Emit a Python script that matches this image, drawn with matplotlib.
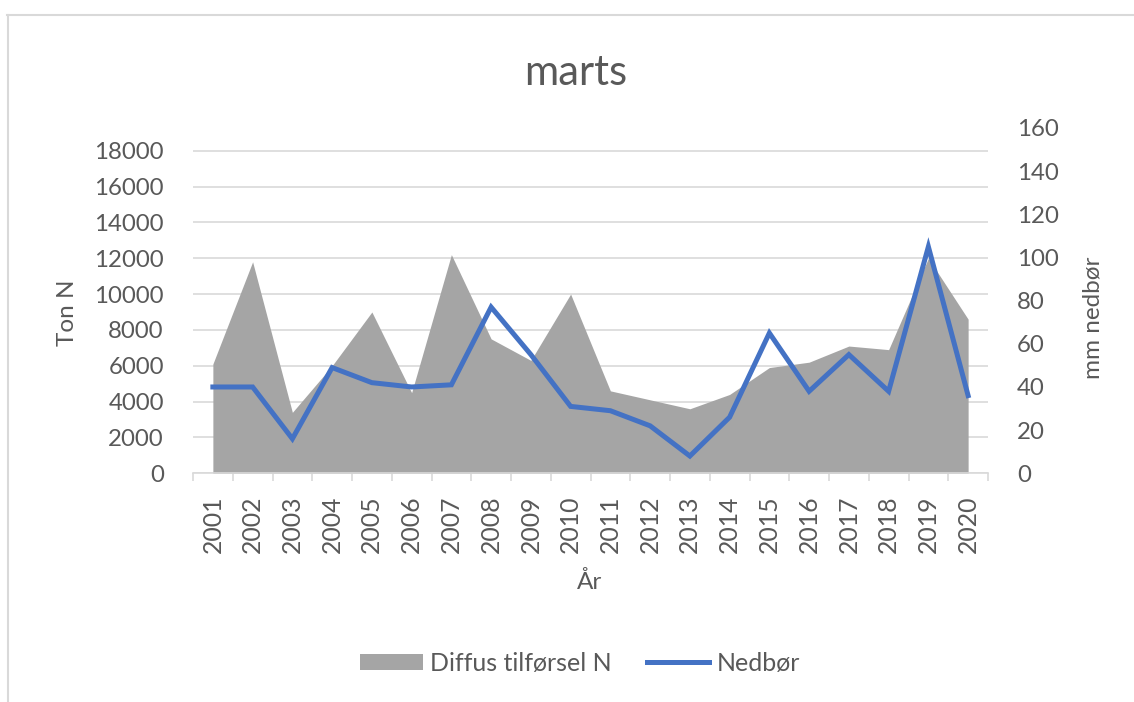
import matplotlib
matplotlib.use("Agg")
import matplotlib.pyplot as plt
from matplotlib.lines import Line2D
from matplotlib.patches import Patch

years = [str(y) for y in range(2001, 2021)]
diffus_n = [6100, 11800, 3400, 6000, 9000, 4500, 12200, 7500, 6300, 10000,
            4600, 4100, 3600, 4400, 5900, 6200, 7100, 6900, 12000, 8600]
nedboer = [40, 40, 16, 49, 42, 40, 41, 77, 55, 31,
           29, 22, 8, 26, 65, 38, 55, 38, 105, 36]
left_ticks = list(range(0, 18001, 2000))
right_ticks = list(range(0, 161, 20))

plt.rcParams['font.family'] = ['Lato', 'DejaVu Sans']
txt = '#595959'
grid = '#d9d9d9'
fs = 17.3

W, H = 1134, 702
fig = plt.figure(figsize=(W / 100, H / 100), dpi=100)
ax = fig.add_axes([193 / W, 1 - 473.3 / H, (988 - 193) / W, (473.3 - 128) / H])
x = list(range(len(years)))

ax.fill_between(x, diffus_n, 0, color='#a5a5a5', linewidth=0, zorder=2)
ax.set_xlim(-0.5, len(years) - 0.5)
ax.set_ylim(0, 18000 * (473.3 - 128) / (473.3 - 150.7))
ax.set_yticks(left_ticks)
ax.set_yticklabels([str(v) for v in left_ticks])
ax.yaxis.grid(True, color=grid, linewidth=1.2, zorder=0)
ax.set_axisbelow(True)
for s in ['top', 'right', 'left']:
    ax.spines[s].set_visible(False)
ax.spines['bottom'].set_color(grid)
ax.spines['bottom'].set_linewidth(1.2)
ax.tick_params(axis='y', length=0, pad=21, labelsize=fs, labelcolor=txt)
ax.set_xticks(x)
ax.set_xticklabels(years, rotation=90)
ax.tick_params(axis='x', which='major', length=0, pad=16, labelsize=fs + 0.5, labelcolor=txt)
ax.set_xticks([i - 0.5 for i in range(len(years) + 1)], minor=True)
ax.tick_params(axis='x', which='minor', length=6, width=1.2, color=grid)

ax2 = ax.twinx()
ax2.plot(x, nedboer, color='#4472c4', linewidth=3.6, solid_joinstyle='miter', zorder=3)
ax2.set_ylim(0, 160)
ax2.set_yticks(right_ticks)
for s in ax2.spines.values():
    s.set_visible(False)
ax2.tick_params(axis='y', length=0, pad=21, labelsize=fs, labelcolor=txt)

fig.text(68 / W, 1 - 313 / H, 'Ton N', rotation=90, ha='center', va='center',
         fontsize=17.5, color=txt)
fig.text(1093 / W, 1 - 318 / H, 'mm nedbør', rotation=90, ha='center', va='center',
         fontsize=17.5, color=txt)
fig.text(590 / W, 1 - 582 / H, 'År', ha='center', va='center', fontsize=17.5, color=txt)
fig.text(576 / W, 1 - 85 / H, 'marts', ha='center', va='baseline', fontsize=30, color=txt)

handles = [Patch(facecolor='#a5a5a5', edgecolor='none'),
           Line2D([0], [0], color='#4472c4', linewidth=3.6)]
fig.legend(handles, ['Diffus tilførsel N', 'Nedbør'], loc='center',
           bbox_to_anchor=(580 / W, 1 - 663 / H), ncol=2, frameon=False,
           fontsize=18, labelcolor=txt, handlelength=2.5, handletextpad=0.3,
           columnspacing=1.4, handleheight=0.6)

fig.add_artist(Line2D([7 / W, 1], [1 - 15 / H, 1 - 15 / H], color=grid, linewidth=1.5))
fig.add_artist(Line2D([8 / W, 8 / W], [0, 1 - 15 / H], color=grid, linewidth=1.5))

fig.savefig('out.png', dpi=100, facecolor='white')
